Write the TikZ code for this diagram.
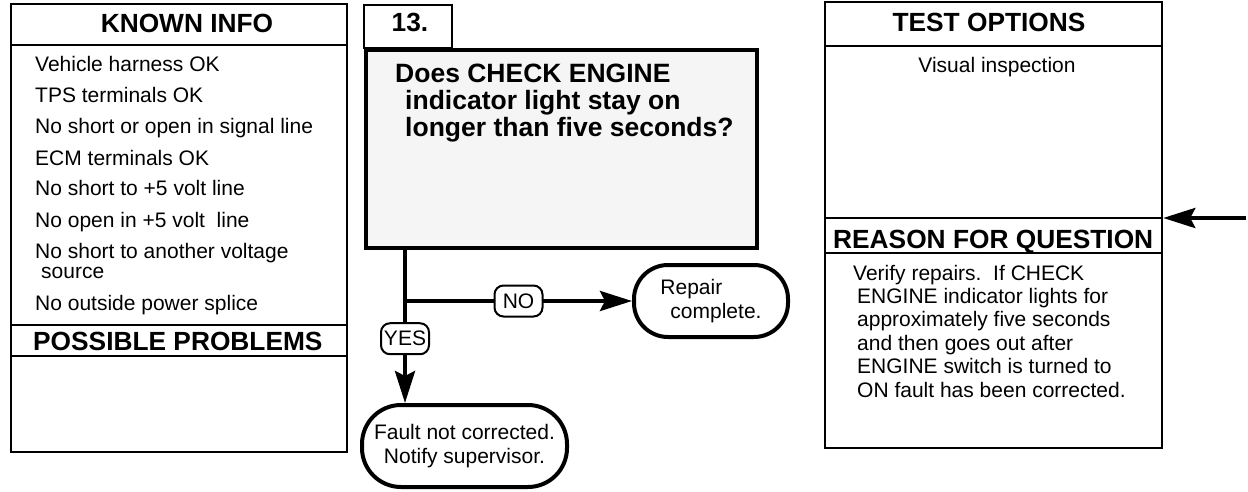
\documentclass[tikz,border=0pt]{standalone}
\usepackage{fontspec}
\setmainfont{Liberation Sans}
\usetikzlibrary{arrows.meta}
\definecolor{qfill}{HTML}{F5F5F5}

\begin{document}
\begin{tikzpicture}[
    x=1pt, y=-1pt,
    panel/.style={draw, line width=2.5pt, inner sep=0pt},
    rule/.style={line width=2.5pt},
    head/.style={font=\fontsize{26.3}{27}\selectfont\bfseries, inner sep=0pt},
    item/.style={font=\fontsize{21}{20}\selectfont, inner sep=0pt, anchor=base west, align=left},
    term/.style={draw, line width=4pt, inner sep=0pt, font=\fontsize{21}{24}\selectfont},
    lbl/.style={draw, fill=white, line width=2pt, rounded corners=9pt, minimum width=48pt, minimum height=31pt, inner sep=0pt, font=\fontsize{21}{21}\selectfont},
    arrow/.style={-{Stealth[length=32pt, width=20pt, inset=5pt]}, line width=4pt}
]
\useasboundingbox (0,0) rectangle (1248,492);

% Known info panel
\node[panel, minimum width=336pt, minimum height=448pt] (known) at (179,228) {};
\draw[rule] (known.west |- 0,45) -- (known.east |- 0,45);
\draw[rule] (known.west |- 0,325) -- (known.east |- 0,325);
\draw[rule] (known.west |- 0,356) -- (known.east |- 0,356);
\node[head, anchor=base] (knownhd) at (187,33) {KNOWN INFO};
\node[item] (k1) at (35,72) {Vehicle harness OK};
\node[item] (k2) at (35,103) {TPS terminals OK};
\node[item] (k3) at (35,134) {No short or open in signal line};
\node[item] (k4) at (35,165) {ECM terminals OK};
\node[item] (k5) at (35,196) {No short to +5 volt line};
\node[item] (k6) at (35,227) {No open in +5 volt\ \ line};
% base of a multi-line node is its last line
\node[item] (k7) at (35,278) {No short to another voltage\\\hspace*{6pt}source};
\node[item] (k8) at (35,310) {No outside power splice};
\node[head, anchor=base west] (probhd) at (33,350) {POSSIBLE PROBLEMS};

% Question
\node[draw, line width=2pt, minimum width=88pt, minimum height=43pt] (num) at (408,26.5) {};
\node[head, anchor=base] (numtxt) at (410,32) {13.};
\node[draw, line width=4pt, fill=qfill, minimum width=391pt, minimum height=198pt] (q) at (561.5,149) {};
\node[head, font=\fontsize{26.5}{27}\selectfont\bfseries, anchor=base west, align=left] (qtxt) at (395,137)
    {Does CHECK ENGINE\\\hspace*{10pt}indicator light stay on\\\hspace*{10pt}longer than five seconds?};

% Outcomes
\node[term, rounded corners=34pt, minimum width=154pt, minimum height=72pt, align=left] (repair) at (711,301)
    {Repair\\\hspace*{10pt}complete.};
\node[term, rounded corners=39pt, minimum width=205pt, minimum height=82pt, align=center] (fault) at (464.5,446)
    {Fault not corrected.\\Notify supervisor.};

% Test options panel
\node[panel, minimum width=337pt, minimum height=446pt] (opts) at (993.5,225) {};
\draw[rule] (opts.west |- 0,46) -- (opts.east |- 0,46);
\draw[rule] (opts.west |- 0,218) -- (opts.east |- 0,218);
\draw[rule] (opts.west |- 0,253) -- (opts.east |- 0,253);
\node[head, anchor=base] (optshd) at (989,32) {TEST OPTIONS};
\node[item, anchor=base] (visual) at (997,73) {Visual inspection};
\node[head, anchor=base west] (reasonhd) at (833,248) {REASON FOR QUESTION};
\node[item, font=\fontsize{21}{23.4}\selectfont] (reason) at (853,397)
    {Verify repairs.\ \ If CHECK\\
     \hspace*{4pt}ENGINE indicator lights for\\
     \hspace*{4pt}approximately five seconds\\
     \hspace*{4pt}and then goes out after\\
     \hspace*{4pt}ENGINE switch is turned to\\
     \hspace*{4pt}ON fault has been corrected.};

% Arrows
\coordinate (split) at (405,301);
\coordinate (feed) at (1246,218);
\draw[arrow] (q.south -| split) -- node[lbl, pos=0.58] {YES} (fault.north -| split);
\draw[arrow] (split) -- node[lbl] {NO} (repair.west);
\draw[arrow] (feed) -- (opts.east |- feed);
\end{tikzpicture}
\end{document}
